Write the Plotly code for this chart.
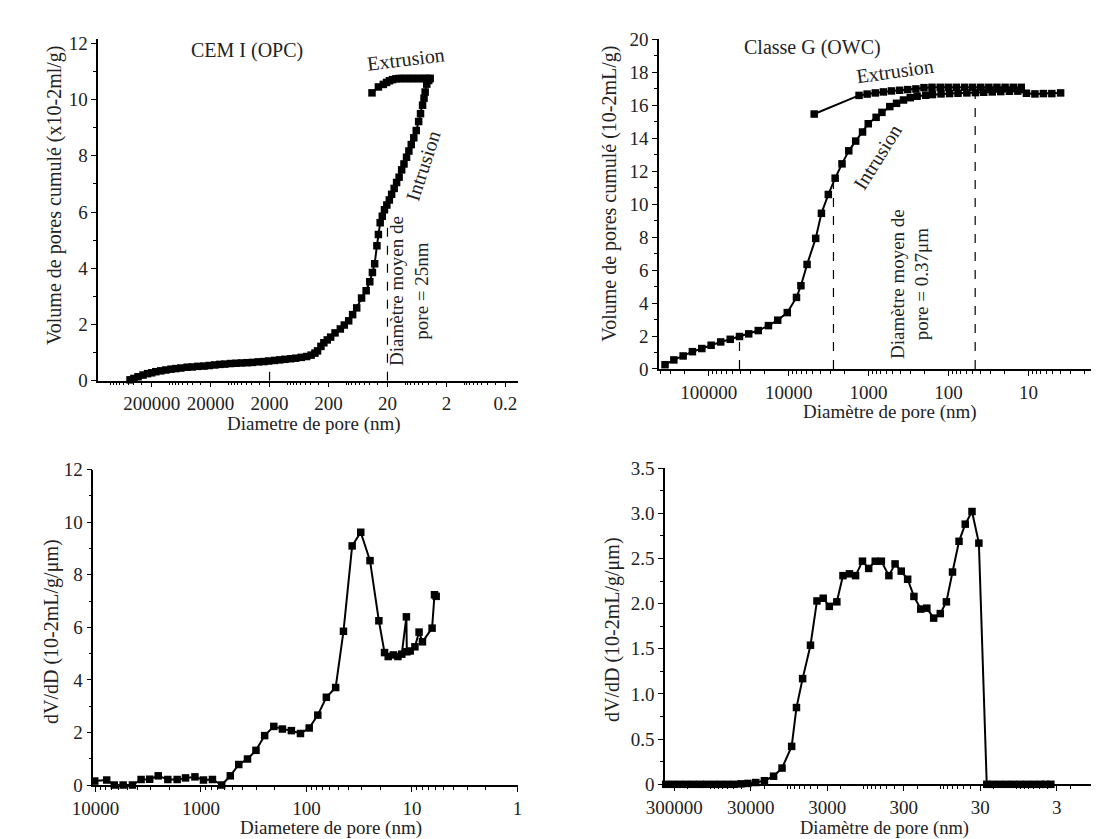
import plotly.graph_objects as go

# ---------------- DATA ----------------
# Top-left: CEM I (OPC) cumulative pore volume
opc_intr_d = [465000, 400000, 340000, 280000, 235000, 200000, 170000, 140000, 115000, 94000,
              78000, 64000, 50000, 41000, 33000, 26000, 21000, 17000, 14000, 11500,
              9200, 7400, 6000, 4800, 3900, 3100, 2500, 2070, 1650, 1350,
              1100, 880, 720, 580, 470, 395, 340, 307, 269, 240,
              210, 184, 155, 126, 108, 91, 78, 66.5, 55, 46,
              39.9, 36, 33, 30.2, 28.5, 26.6, 24.5, 22.5, 20.5, 18.6,
              17, 15.4, 14, 12.7, 11.5, 10.5, 9.5, 8.67, 7.9, 7.16,
              6.5, 5.92, 5.5, 5.08, 4.8, 4.59, 4.31, 4.0, 3.8]
opc_intr_v = [0.03, 0.08, 0.14, 0.20, 0.25, 0.28, 0.32, 0.35, 0.38, 0.41,
              0.43, 0.45, 0.48, 0.49, 0.51, 0.52, 0.54, 0.56, 0.58, 0.59,
              0.61, 0.62, 0.63, 0.64, 0.65, 0.67, 0.68, 0.70, 0.72, 0.74,
              0.76, 0.78, 0.80, 0.83, 0.86, 0.91, 0.98, 1.06, 1.22, 1.35,
              1.45, 1.55, 1.70, 1.84, 1.98, 2.13, 2.35, 2.59, 2.94, 3.20,
              3.52, 3.85, 4.16, 4.80, 5.20, 5.62, 5.85, 6.08, 6.25, 6.43,
              6.63, 6.84, 7.05, 7.24, 7.50, 7.71, 7.95, 8.17, 8.40, 8.64,
              8.90, 9.22, 9.50, 9.80, 10.05, 10.27, 10.55, 10.68, 10.75]
opc_extr_d = [3.8, 4.2, 4.6, 5.1, 5.6, 6.2, 6.9, 7.6, 8.4, 9.3, 10.4, 11.5, 12.7, 14.3,
              16.4, 18.5, 20.7, 23.5, 28.5, 36.6]
opc_extr_v = [10.75, 10.75, 10.75, 10.75, 10.75, 10.75, 10.75, 10.75, 10.75, 10.75, 10.75,
              10.75, 10.75, 10.74, 10.71, 10.67, 10.61, 10.54, 10.45, 10.24]
opc_mean_d = [20, 20]
opc_mean_v = [0, 5.7]
opc_mark_d = [2000, 2000]
opc_mark_v = [0, 0.55]

# Top-right: Classe G (OWC) cumulative pore volume
owc_intr_d = [352000, 273000, 209000, 160000, 122000, 93300, 70800, 53800, 41200, 31600,
              24000, 17900, 13700, 10400, 7980, 7020, 5880, 4590, 3890, 3190,
              2620, 2150, 1770, 1450, 1190, 1010, 805, 681, 543, 447,
              366, 301, 247, 193, 159, 124, 97, 76, 59, 46,
              36.3, 28.4, 22.2, 17.3, 13.6, 10.6, 8.3, 6.5, 5.1, 3.96]
owc_intr_v = [0.26, 0.55, 0.79, 1.05, 1.24, 1.44, 1.64, 1.80, 1.97, 2.13,
              2.33, 2.63, 2.96, 3.42, 4.34, 5.05, 6.34, 7.92, 9.44, 10.58,
              11.57, 12.44, 13.23, 13.82, 14.37, 14.87, 15.26, 15.56, 15.91, 16.11,
              16.31, 16.45, 16.54, 16.60, 16.64, 16.68, 16.70, 16.72, 16.74, 16.76,
              16.78, 16.80, 16.82, 16.84, 16.85, 16.72, 16.68, 16.70, 16.70, 16.74]
owc_extr_d = [4790, 1316, 1042, 824, 653, 518, 409, 324, 256, 203, 161, 127, 101, 80,
              63, 50, 39.5, 31.3, 24.8, 19.6, 15.5, 12.3]
owc_extr_v = [15.46, 16.59, 16.67, 16.74, 16.80, 16.86, 16.90, 16.94, 16.98, 17.06, 17.08,
              17.08, 17.08, 17.08, 17.08, 17.08, 17.08, 17.08, 17.08, 17.08, 17.08, 17.08]
owc_dash_d = [[41200, 41200], [2750, 2750], [46.4, 46.4]]
owc_dash_v = [[0, 2.0], [0, 11.3], [0, 16.8]]

# Bottom-left: CEM I dV/dD
opc_dvd_d = [13700, 10150, 7820, 6630, 5460, 4460, 3690, 3060, 2540, 2060,
             1680, 1400, 1140, 946, 778, 636, 527, 438, 362, 301,
             249, 204, 169, 139, 114, 94.2, 78.1, 64.8, 52.9, 44.6,
             36.9, 30.6, 25.0, 20.6, 18.2, 16.8, 15.0, 13.6, 12.5, 11.3,
             11.2, 10.4, 9.38, 8.57, 7.96, 6.45, 6.12, 5.90]
opc_dvd_v = [0.19, 0.15, 0.19, 0.0, 0.0, 0.0, 0.21, 0.22, 0.35, 0.21,
             0.21, 0.27, 0.31, 0.19, 0.21, 0.0, 0.35, 0.78, 0.99, 1.32,
             1.88, 2.23, 2.13, 2.07, 1.96, 2.17, 2.66, 3.34, 3.71, 5.85,
             9.10, 9.62, 8.54, 6.25, 5.04, 4.89, 4.95, 4.89, 4.98, 6.40,
             5.07, 5.10, 5.26, 5.82, 5.45, 5.97, 7.24, 7.18]

# Bottom-right: Classe G dV/dD
owc_dvd_d = [388000, 316000, 257000, 209000, 170000, 138000, 113000, 91700, 74600, 60700,
             49400, 40300, 32700, 25800, 19900, 15100, 11700, 8760, 7580, 6300,
             4970, 4090, 3390, 2820, 2250, 1870, 1540, 1280, 1040, 863,
             708, 589, 470, 390, 324, 267, 221, 180, 150, 122,
             100, 83.2, 69.2, 56.9, 47.2, 38.5, 31.3, 24.7, 20.7, 16.9,
             13.7, 11.2, 9.08, 7.39, 6.01, 4.90, 4.19, 3.59]
owc_dvd_v = [0, 0, 0, 0, 0, 0, 0, 0, 0, 0,
             0, 0.005, 0.01, 0.02, 0.04, 0.09, 0.18, 0.42, 0.85, 1.17,
             1.54, 2.03, 2.06, 1.97, 2.02, 2.31, 2.33, 2.31, 2.47, 2.39,
             2.47, 2.47, 2.31, 2.44, 2.36, 2.27, 2.08, 1.94, 1.95, 1.84,
             1.89, 2.02, 2.35, 2.69, 2.88, 3.02, 2.67, 0, 0, 0,
             0, 0, 0, 0, 0, 0, 0, 0]

# Tick labels
tl_ticks = [200000, 20000, 2000, 200, 20, 2, 0.2]
tl_text = ["200000", "20000", "2000", "200", "20", "2", "0.2"]
tr_ticks = [100000, 10000, 1000, 100, 10]
tr_text = ["100000", "10000", "1000", "100", "10"]
bl_ticks = [10000, 1000, 100, 10, 1]
bl_text = ["10000", "1000", "100", "10", "1"]
br_ticks = [300000, 30000, 3000, 300, 30, 3]
br_text = ["300000", "30000", "3000", "300", "30", "3"]
br_yticks = [0, 0.5, 1.0, 1.5, 2.0, 2.5, 3.0, 3.5]
br_ytext = ["0", "0.5", "1.0", "1.5", "2.0", "2.5", "3.0", "3.5"]

# ---------------- STYLE ----------------
FONT = "Liberation Serif, Times New Roman, serif"
INK = "#222222"
W, H = 1099, 839


def px(x):
    return x / W


def py(y):
    return 1 - y / H


def minor_vals(lo_exp, hi_exp, majors):
    vals = []
    for e in range(lo_exp, hi_exp + 1):
        for m in range(1, 10):
            v = m * 10.0 ** e
            if all(abs(v - mj) / mj > 1e-6 for mj in majors):
                vals.append(v)
    return vals


def line_trace(xs, ys, xa, ya, width=2):
    return go.Scatter(x=xs, y=ys, xaxis=xa, yaxis=ya, mode="lines+markers",
                      line=dict(color="black", width=width),
                      marker=dict(symbol="square", size=7.5, color="black"),
                      cliponaxis=False, showlegend=False, hoverinfo="skip")


def dash_trace(xs, ys, xa, ya):
    return go.Scatter(x=xs, y=ys, xaxis=xa, yaxis=ya, mode="lines",
                      line=dict(color="black", width=1.2, dash="dash"),
                      showlegend=False, hoverinfo="skip")


fig = go.Figure()
fig.add_trace(line_trace(opc_intr_d, opc_intr_v, "x", "y"))
fig.add_trace(line_trace(opc_extr_d, opc_extr_v, "x", "y"))
fig.add_trace(dash_trace(opc_mean_d, opc_mean_v, "x", "y"))
fig.add_trace(dash_trace(opc_mark_d, opc_mark_v, "x", "y"))

fig.add_trace(line_trace(owc_intr_d, owc_intr_v, "x2", "y2"))
fig.add_trace(line_trace(owc_extr_d, owc_extr_v, "x2", "y2"))
for dx, dv in zip(owc_dash_d, owc_dash_v):
    fig.add_trace(dash_trace(dx, dv, "x2", "y2"))

fig.add_trace(line_trace(opc_dvd_d, opc_dvd_v, "x3", "y3"))
fig.add_trace(line_trace(owc_dvd_d, owc_dvd_v, "x4", "y4"))

tickfont = dict(family=FONT, size=19, color=INK)


def xaxis(domain, anchor, rng, tv, tt, minors):
    return dict(domain=domain, anchor=anchor, type="log", range=rng,
                showline=True, linecolor="black", linewidth=1.6,
                ticks="outside", ticklen=5, tickwidth=1.4, tickcolor="black",
                tickmode="array", tickvals=tv, ticktext=tt, tickfont=tickfont,
                showgrid=False, zeroline=False,
                minor=dict(ticks="outside", ticklen=3, tickwidth=1, tickcolor="black",
                           tickmode="array", tickvals=minors, showgrid=False))


def yaxis(domain, anchor, rng, dtick, mdtick, tv=None, tt=None):
    d = dict(domain=domain, anchor=anchor, range=rng,
             showline=True, linecolor="black", linewidth=1.6,
             ticks="outside", ticklen=5, tickwidth=1.4, tickcolor="black",
             tickfont=tickfont, showgrid=False, zeroline=False,
             minor=dict(ticks="outside", ticklen=3, tickwidth=1, tickcolor="black",
                        dtick=mdtick, showgrid=False))
    if tv is not None:
        d.update(tickmode="array", tickvals=tv, ticktext=tt)
    else:
        d.update(tick0=0, dtick=dtick)
    return d


fig.update_layout(
    width=W, height=H, autosize=False,
    margin=dict(l=0, r=0, t=0, b=0),
    paper_bgcolor="white", plot_bgcolor="white",
    font=dict(family=FONT, color=INK),
    xaxis=xaxis([px(70), px(500)], "y", [6.206, -0.908], tl_ticks, tl_text,
                minor_vals(-1, 6, tl_ticks)),
    yaxis=yaxis([py(372), py(21.7)], "x", [0, 12.15], 2, 1),
    xaxis2=xaxis([px(645), 1.0], "y2", [5.62, 0.08], tr_ticks, tr_text,
                 minor_vals(0, 5, tr_ticks)),
    yaxis2=yaxis([py(360), py(21.7)], "x2", [0, 20], 2, 1),
    xaxis3=xaxis([px(64.9), px(499.8)], "y3", [4.02, 0], bl_ticks, bl_text,
                 minor_vals(0, 4, bl_ticks)),
    yaxis3=yaxis([py(786.7), py(463.3)], "x3", [0, 12], 2, 1),
    xaxis4=xaxis([px(651), px(1089.3)], "y4", [5.598, 0.01], br_ticks, br_text,
                 minor_vals(0, 5, br_ticks)),
    yaxis4=yaxis([py(786), py(461.7)], "x4", [0, 3.5], 0.5, 0.25, br_yticks, br_ytext),
)

annots = [
    ("CEM I (OPC)", 222.7, 33.3, 0, 20),
    ("Extrusion", 385.8, 42.5, -7, 20),
    ("Intrusion", 402.7, 151.7, -72, 20),
    ("Diamètre moyen de<br>pore = 25nm", 388.5, 280, -90, 19),
    ("Classe G (OWC)", 802.5, 30.7, 0, 20),
    ("Extrusion", 886.7, 54, -8, 20),
    ("Intrusion", 869, 143, -58, 20),
    ("Diamètre moyen de<br>pore = 0.37μm", 901.5, 272.5, -90, 19),
    ("Volume de pores cumulé (x10-2ml/g)", 24.5, 181.7, -90, 20),
    ("Volume de pores cumulé (10-2mL/g)", 593.8, 180, -90, 20),
    ("dV/dD (10-2mL/g/μm)", 22.8, 629.5, -90, 20),
    ("dV/dD (10-2mL/g/μm)", 597.4, 627, -90, 20),
    ("Diametre de pore (nm)", 291, 416, 0, 19),
    ("Diamètre de pore (nm)", 881.5, 404, 0, 19),
    ("Diametere de pore (nm)", 308.7, 831, 0, 19),
    ("Diamètre de pore (nm)", 876, 831, 0, 18.5),
]
for text, x, y, ang, size in annots:
    fig.add_annotation(text=text, x=px(x), y=py(y), xref="paper", yref="paper",
                       xanchor="center", yanchor="middle", showarrow=False,
                       textangle=ang, font=dict(family=FONT, size=size, color=INK),
                       align="center")

fig.write_html("out.html")
